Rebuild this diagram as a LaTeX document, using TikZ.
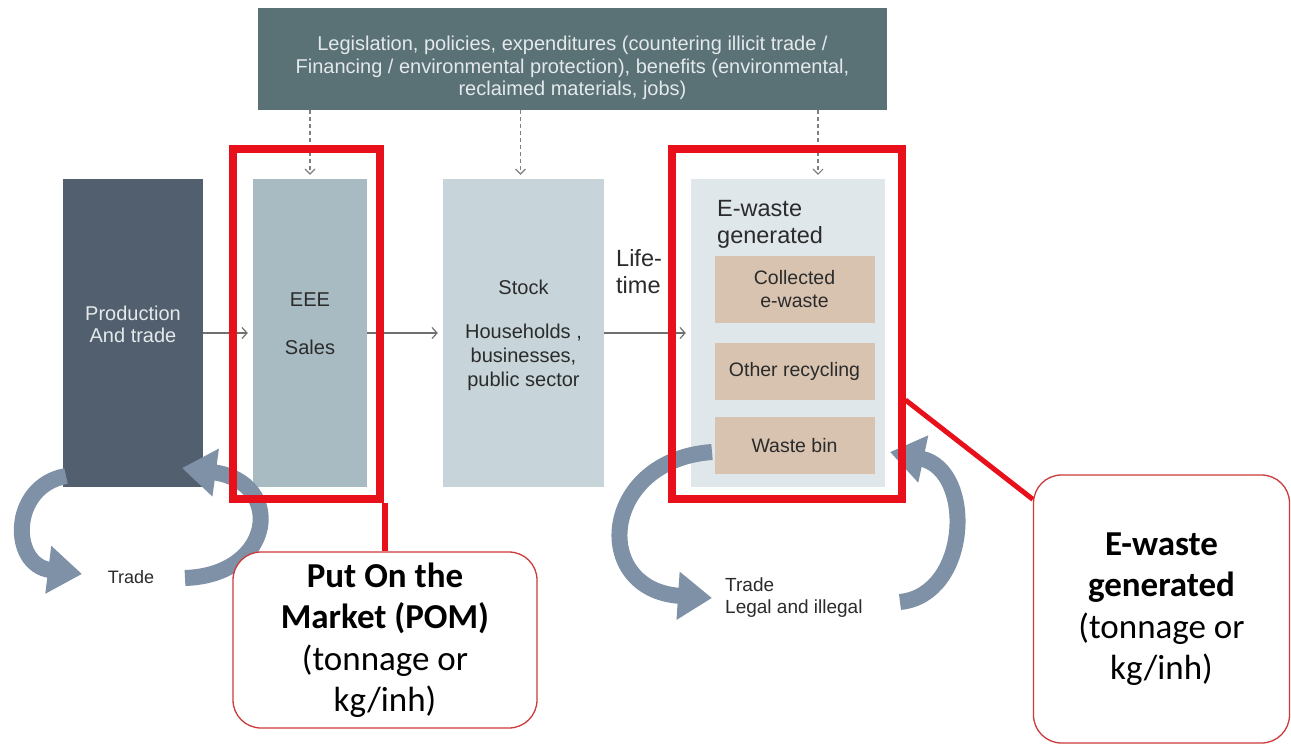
\documentclass[tikz,border=0pt]{standalone}
\usepackage{fontspec}
\setmainfont{Liberation Sans}
\newfontfamily\calibrifont{Carlito}
\usetikzlibrary{arrows.meta}
\definecolor{topc}{HTML}{5A7176}
\definecolor{prodc}{HTML}{515F6E}
\definecolor{eeec}{HTML}{A8BBC2}
\definecolor{stockc}{HTML}{C7D5DA}
\definecolor{ewastec}{HTML}{DFE7EB}
\definecolor{tanc}{HTML}{D8C3B0}
\definecolor{redc}{HTML}{E8101A}
\definecolor{calloutc}{HTML}{CC3B3B}
\definecolor{bandc}{HTML}{7F91A7}
\definecolor{flowc}{HTML}{707070}
\definecolor{darktext}{HTML}{2B2B2B}
\definecolor{lighttext}{HTML}{E4E9EB}
\begin{document}
\begin{tikzpicture}[x=1pt,y=-1pt,
  box/.style={rectangle, inner sep=0pt, draw=none},
  txt/.style={inner sep=0pt, text=darktext, align=center},
  tanbox/.style={box, fill=tanc, minimum width=160pt, text=darktext, align=center,
     font=\fontsize{19.5}{23}\selectfont},
  flow/.style={draw=flowc, line width=1.2pt, -{Straight Barb[length=5pt,width=11pt]}, shorten >=5pt},
  dasharr/.style={draw=gray, line width=1.1pt, dash pattern=on 4pt off 3pt,
     -{Straight Barb[length=5pt,width=10pt]}, shorten >=4pt},
  band/.style={draw=bandc, line width=16pt, -{Triangle[length=34pt,width=46pt]}},
  redbox/.style={rectangle, draw=redc, line width=8pt, inner sep=0pt},
  callout/.style={rectangle, draw=calloutc, line width=1.3pt, rounded corners=28pt,
     fill=white, align=center, inner sep=0pt, text=black,
     font=\calibrifont\fontsize{35}{41.5}\selectfont}
]
\useasboundingbox (0,0) rectangle (1291,746);
\fill[white] (0,0) rectangle (1291,746);

% top box
\node[box, fill=topc, minimum width=629pt, minimum height=102pt] (top) at (572.5,59) {};
\node[txt, text=lighttext, font=\fontsize{20}{22.5}\selectfont] (toptext) at (572.5,68)
  {Legislation, policies, expenditures (countering illicit trade /\\
   Financing / environmental protection), benefits (environmental,\\
   reclaimed materials, jobs)};

% main boxes
\node[box, fill=prodc, minimum width=140pt, minimum height=308pt] (prod) at (133,333) {};
\node[box, fill=eeec, minimum width=114pt, minimum height=308pt] (eee) at (310,333) {};
\node[box, fill=stockc, minimum width=161pt, minimum height=308pt] (stock) at (523.5,333) {};
\node[box, fill=ewastec, minimum width=194pt, minimum height=308pt] (ewaste) at (788,333) {};

% texts in boxes
\node[txt, text=lighttext, font=\fontsize{20}{22}\selectfont] (prodtext) at (133,324) {Production\\And trade};
\node[txt, font=\fontsize{20}{22}\selectfont] (eeetext) at (310,300) {EEE};
\node[txt, font=\fontsize{20}{22}\selectfont] (salestext) at (310,347) {Sales};
\node[txt, font=\fontsize{20}{22}\selectfont] (stocktext) at (523.5,287) {Stock};
\node[txt, font=\fontsize{20}{24}\selectfont] (hhtext) at (523.5,357) {Households ,\\businesses,\\public sector};
\node[txt, align=left, anchor=west, font=\fontsize{23.5}{27}\selectfont] (life) at (616,272) {Life-\\time};
\node[txt, align=left, anchor=west, font=\fontsize{23.5}{27}\selectfont] (ewtitle) at (717,224) {E-waste\\generated};

% inner tan boxes
\node[tanbox, minimum height=67pt] (collected) at (794.5,289.5) {Collected\\e-waste};
\node[tanbox, minimum height=57pt] (other) at (794.5,371.5) {Other recycling};
\node[tanbox, minimum height=57pt] (wbin) at (794.5,445.5) {Waste bin};

% dashed arrows
\draw[dasharr] (top.south -| eee.north) -- (eee.north);
\draw[dasharr] ([xshift=-3pt]top.south -| stock.north) -- ([xshift=-3pt]stock.north);
\draw[dasharr] ([xshift=30pt]ewaste.north |- top.south) -- ([xshift=30pt]ewaste.north);

% flow arrows
\draw[flow] (prod.east) -- (eee.west);
\draw[flow] (eee.east) -- (stock.west);
\draw[flow] (stock.east) -- (ewaste.west);

% trade loops
\draw[band] (66,476) .. controls (10,486) and (10,565) .. (82,574);
\draw[band] (185,578) .. controls (275,575) and (285,482) .. (182,468);
\draw[band] (712,452) .. controls (600,460) and (590,590) .. (712,598);
\draw[band] (900,602) .. controls (970,595) and (975,470) .. (890,452);
\node[txt, font=\fontsize{18}{22}\selectfont] (trade1) at (131,577) {Trade};
\node[txt, align=left, anchor=west, font=\fontsize{19}{22}\selectfont] (trade2) at (725,598) {Trade\\Legal and illegal};

% red highlight boxes
\node[redbox, minimum width=147pt, minimum height=350pt] (redA) at (306.5,324) {};
\node[redbox, minimum width=229.5pt, minimum height=350pt] (redB) at (786.75,324) {};

% callouts
\node[callout, minimum width=304pt, minimum height=176pt] (pom) at (385,640)
  {\textbf{Put On the}\\\textbf{Market (POM)}\\(tonnage or\\kg/inh)};
\node[callout, minimum width=256pt, minimum height=268pt] (ewcall) at (1161.5,609)
  {\textbf{E-waste}\\\textbf{generated}\\(tonnage or\\kg/inh)};

% red connectors
\draw[redc, line width=6pt] ([xshift=1pt]redA.south east) -- ([xshift=1pt]redA.south east |- pom.north);
\draw[redc, line width=5pt] ([yshift=-76pt]redB.east) -- ([yshift=-25pt]ewcall.north west);
\end{tikzpicture}
\end{document}
